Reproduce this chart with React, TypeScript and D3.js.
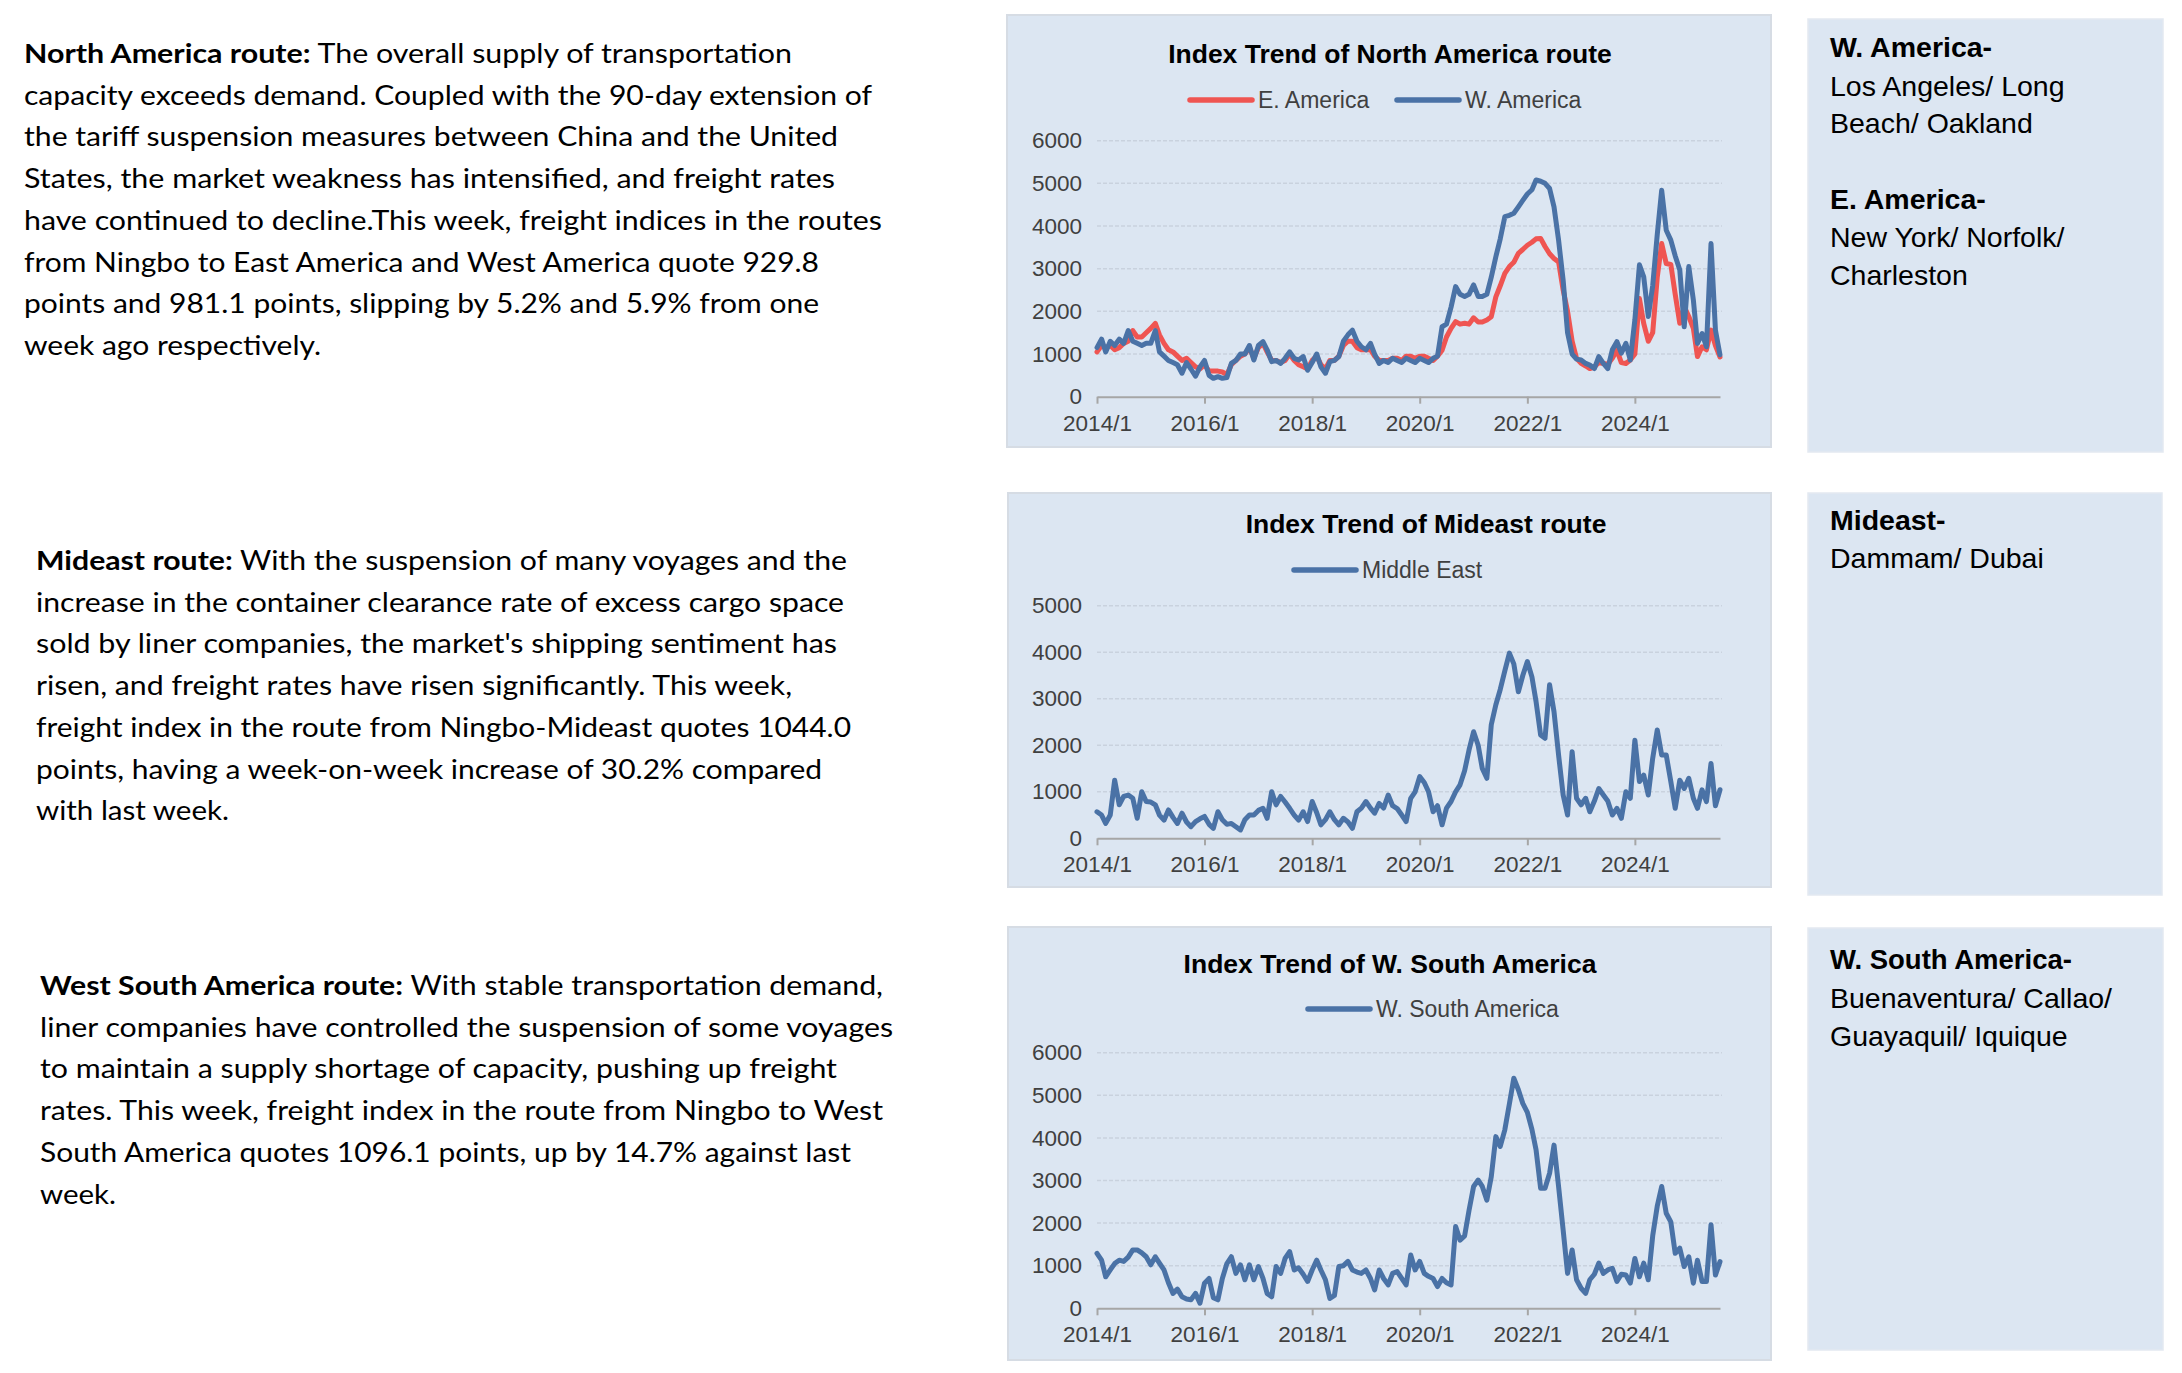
import { useEffect, useRef } from "react";
import * as d3 from "d3";

const W = 2182;
const H = 1373;

// monthly points, 2014/1 .. 2025/8
const MONTHS = d3.timeMonth.range(new Date(2014, 0, 1), new Date(2025, 8, 1));
const X_TICK_LABELS = ["2014/1", "2016/1", "2018/1", "2020/1", "2022/1", "2024/1"];
const X_TICK_DATES = X_TICK_LABELS.map((s) => d3.timeParse("%Y/%m")(s) as Date);

const eastAmerica = [
  1050, 1200, 1150, 1200, 1100, 1150, 1250, 1300, 1550, 1400, 1400, 1500,
  1600, 1720, 1450, 1250, 1100, 1050, 950, 850, 900, 800, 700, 650,
  750, 600, 600, 600, 580, 520, 750, 850, 950, 1000, 1150, 900,
  1150, 1250, 1050, 850, 850, 800, 850, 1000, 850, 750, 700, 650,
  850, 950, 750, 650, 850, 850, 950, 1200, 1300, 1300, 1150, 1100,
  1100, 1100, 950, 850, 850, 850, 900, 900, 850, 950, 950, 900,
  950, 950, 900, 850, 950, 1090, 1400, 1600, 1760, 1700, 1720, 1700,
  1850, 1750, 1750, 1800, 1875, 2340, 2600, 2890, 3050, 3150, 3360, 3450,
  3550, 3620, 3700, 3710, 3520, 3350, 3240, 3160, 2500, 2000, 1300, 900,
  780, 720, 660, 700, 800, 780, 760, 900, 1090, 800, 780, 860,
  1000, 2300, 1720, 1300, 1500, 2800, 3590, 3120, 3100, 2400, 1720, 2110,
  1880, 1600, 940, 1170, 1100, 1560, 1200, 930,
];

const westAmerica = [
  1150, 1350, 1050, 1300, 1200, 1350, 1250, 1550, 1300, 1250, 1200, 1250,
  1250, 1550, 1050, 950, 850, 800, 750, 550, 800, 650, 480, 700,
  850, 500, 430, 470, 430, 450, 780, 850, 1000, 1000, 1200, 860,
  1200, 1290, 1100, 820, 850, 780, 900, 1050, 900, 860, 940, 620,
  800, 1000, 700, 550, 820, 850, 940, 1300, 1450, 1560, 1300, 1170,
  1100, 1250, 1000, 780, 850, 800, 900, 850, 800, 900, 850, 800,
  900, 850, 800, 900, 950, 1640, 1700, 2100, 2580, 2400, 2350, 2400,
  2620, 2350, 2350, 2400, 2800, 3280, 3700, 4220, 4250, 4300, 4450, 4600,
  4750, 4850, 5080, 5050, 5000, 4880, 4450, 3670, 2730, 1500, 1000, 880,
  860, 780, 740, 660, 940, 780, 660, 1100, 1290, 1020, 1250, 860,
  1800, 3090, 2810, 1880, 2600, 3800, 4840, 3900, 3670, 3300, 2970, 1640,
  3050, 2270, 1250, 1480, 1170, 3590, 1560, 981,
];

const middleEast = [
  570, 500, 320, 500, 1250, 720, 900, 930, 860, 430, 1000, 790,
  780, 720, 500, 390, 610, 450, 320, 540, 350, 250, 360, 420,
  470, 300, 215, 570, 400, 300, 320, 250, 180, 400, 500, 500,
  600, 645, 430, 1000, 720, 900, 780, 645, 500, 390, 570, 360,
  790, 550, 290, 400, 570, 400, 290, 430, 350, 215, 570, 650,
  790, 650, 540, 750, 650, 930, 700, 640, 500, 360, 860, 1000,
  1325, 1200, 1000, 570, 700, 290, 650, 790, 1000, 1150, 1450, 1900,
  2290, 2000, 1500, 1290, 2440, 2870, 3200, 3600, 3980, 3750, 3150, 3500,
  3800, 3470, 2940, 2220, 2150, 3300, 2720, 1790, 930, 500, 1860, 860,
  720, 860, 570, 800, 1070, 930, 800, 500, 645, 430, 1000, 860,
  2110, 1220, 1360, 930, 1720, 2330, 1790, 1790, 1220, 645, 1250, 1070,
  1290, 860, 645, 1040, 790, 1610, 700, 1044,
];

const westSouthAmerica = [
  1290, 1130, 740, 900, 1050, 1130, 1100, 1200, 1370, 1370, 1300, 1210,
  1020, 1210, 1060, 900, 600, 350, 450, 270, 220, 200, 350, 120,
  590, 700, 250, 200, 700, 1050, 1210, 820, 1020, 670, 1020, 670,
  980, 700, 350, 270, 980, 820, 1170, 1330, 900, 950, 800, 630,
  900, 1130, 900, 670, 230, 300, 980, 1000, 1100, 900, 850, 820,
  900, 700, 430, 900, 700, 550, 820, 860, 700, 550, 1250, 900,
  1100, 820, 750, 700, 510, 700, 600, 550, 1920, 1600, 1700, 2300,
  2860, 3010, 2860, 2540, 3090, 4030, 3800, 4190, 4800, 5400, 5130, 4810,
  4600, 4200, 3720, 2820, 2820, 3170, 3830, 2860, 1840, 820, 1370, 670,
  470, 350, 670, 800, 1060, 820, 900, 940, 630, 800, 780, 590,
  1170, 740, 1060, 670, 1700, 2400, 2860, 2230, 2030, 1290, 1410, 980,
  1210, 590, 1130, 630, 630, 1960, 780, 1096,
];

const RED = "#EF5552";
const BLUE = "#4A72A6";
const PANEL_FILL = "#DCE6F2";
const ARIAL = "Arial, 'Liberation Sans', sans-serif";
const BODY_FONT = "Lato, 'Open Sans', sans-serif";

const PLOT_LEFT = 1097;
const PLOT_RIGHT = 1720;

const PANELS = [
  {
    title: "Index Trend of North America route",
    box: [1007, 15, 764, 432],
    titleX: 1390, titleY: 63, legendY: 100,
    series: [
      { name: "E. America", values: eastAmerica, color: RED, legendX: 1190 },
      { name: "W. America", values: westAmerica, color: BLUE, legendX: 1397 },
    ],
    yMax: 6000, plotTop: 140.7, plotBottom: 396.7,
  },
  {
    title: "Index Trend of Mideast route",
    box: [1008, 493, 763, 394],
    titleX: 1426, titleY: 533, legendY: 570,
    series: [{ name: "Middle East", values: middleEast, color: BLUE, legendX: 1294 }],
    yMax: 5000, plotTop: 605.7, plotBottom: 838.3,
  },
  {
    title: "Index Trend of W. South America",
    box: [1008, 927, 763, 433],
    titleX: 1390, titleY: 973, legendY: 1009,
    series: [{ name: "W. South America", values: westSouthAmerica, color: BLUE, legendX: 1308 }],
    yMax: 6000, plotTop: 1052.7, plotBottom: 1308.3,
  },
];

const LINE_GAP = 41.7;
const PARAGRAPHS = [
  {
    x: 24, y: 63, lead: "North America route:",
    lines: [
      "The overall supply of transportation",
      "capacity exceeds demand. Coupled with the 90-day extension of",
      "the tariff suspension measures between China and the United",
      "States, the market weakness has intensified, and freight rates",
      "have continued to decline.This week, freight indices in the routes",
      "from Ningbo to East America and West America quote 929.8",
      "points and 981.1 points, slipping by 5.2% and 5.9% from one",
      "week ago respectively.",
    ],
    ends: [792, 872, 838, 835, 882, 819, 819, 321],
  },
  {
    x: 36, y: 570, lead: "Mideast route:",
    lines: [
      "With the suspension of many voyages and the",
      "increase in the container clearance rate of excess cargo space",
      "sold by liner companies, the market's shipping sentiment has",
      "risen, and freight rates have risen significantly. This week,",
      "freight index in the route from Ningbo-Mideast quotes 1044.0",
      "points, having a week-on-week increase of 30.2% compared",
      "with last week.",
    ],
    ends: [847, 844, 837, 792, 851, 822, 229],
  },
  {
    x: 40, y: 995, lead: "West South America route:",
    lines: [
      "With stable transportation demand,",
      "liner companies have controlled the suspension of some voyages",
      "to maintain a supply shortage of capacity, pushing up freight",
      "rates. This week, freight index in the route from Ningbo to West",
      "South America quotes 1096.1 points, up by 14.7% against last",
      "week.",
    ],
    ends: [883, 893, 837, 883, 851, 116],
  },
];

const PORT_BOXES = [
  {
    box: [1808, 19, 355, 433],
    lines: [
      { t: "W. America-", b: true, y: 56.7 },
      { t: "Los Angeles/ Long", b: false, y: 96 },
      { t: "Beach/ Oakland", b: false, y: 133.3 },
      { t: "E. America-", b: true, y: 209 },
      { t: "New York/ Norfolk/", b: false, y: 246.7 },
      { t: "Charleston", b: false, y: 285 },
    ],
  },
  {
    box: [1808, 493, 354, 402],
    lines: [
      { t: "Mideast-", b: true, y: 530 },
      { t: "Dammam/ Dubai", b: false, y: 568 },
    ],
  },
  {
    box: [1808, 928, 355, 422],
    lines: [
      { t: "W. South America-", b: true, y: 969 },
      { t: "Buenaventura/ Callao/", b: false, y: 1008 },
      { t: "Guayaquil/ Iquique", b: false, y: 1046 },
    ],
  },
];

export default function App() {
  const svgRef = useRef<SVGSVGElement>(null);

  useEffect(() => {
    const svg = d3.select(svgRef.current);
    svg.selectAll("*").remove();
    svg.attr("width", W).attr("height", H).attr("viewBox", `0 0 ${W} ${H}`);

    svg.append("rect").attr("width", W).attr("height", H).attr("fill", "#ffffff");

    // Commentary paragraphs
    PARAGRAPHS.forEach((p) => {
      p.lines.forEach((line, i) => {
        const t = svg.append("text")
          .attr("x", p.x)
          .attr("y", p.y + i * LINE_GAP)
          .attr("font-family", BODY_FONT)
          .attr("font-size", 26)
          .attr("fill", "#000000");
        if (i === 0) t.append("tspan").attr("font-weight", "bold").text(p.lead);
        t.append("tspan").text(i === 0 ? " " + line : line);
        t.attr("textLength", p.ends[i] - p.x).attr("lengthAdjust", "spacingAndGlyphs");
      });
    });

    // Port lists on the right
    PORT_BOXES.forEach((pb) => {
      const [bx, by, bw, bh] = pb.box;
      svg.append("rect")
        .attr("x", bx).attr("y", by).attr("width", bw).attr("height", bh)
        .attr("fill", PANEL_FILL)
        .attr("stroke", "#E3E9F1")
        .attr("stroke-width", 1.5);
      pb.lines.forEach((l) => {
        svg.append("text")
          .attr("x", 1830)
          .attr("y", l.y)
          .attr("font-family", ARIAL)
          .attr("font-size", l.b && l.t.length > 14 ? 27.5 : 28.5)
          .attr("font-weight", l.b ? "bold" : "normal")
          .attr("fill", "#000000")
          .text(l.t);
      });
    });

    const x = d3.scaleTime()
      .domain([MONTHS[0], MONTHS[MONTHS.length - 1]])
      .range([PLOT_LEFT, PLOT_RIGHT]);

    PANELS.forEach((p) => {
      const [bx, by, bw, bh] = p.box;
      const g = svg.append("g");

      g.append("rect")
        .attr("x", bx).attr("y", by).attr("width", bw).attr("height", bh)
        .attr("fill", PANEL_FILL)
        .attr("stroke", "#D6DCE4")
        .attr("stroke-width", 2);

      // Title
      g.append("text")
        .attr("x", p.titleX)
        .attr("y", p.titleY)
        .attr("text-anchor", "middle")
        .attr("font-family", ARIAL)
        .attr("font-size", 26.5)
        .attr("font-weight", "bold")
        .attr("fill", "#000000")
        .text(p.title);

      // Legend
      p.series.forEach((s) => {
        g.append("line")
          .attr("x1", s.legendX).attr("x2", s.legendX + 62)
          .attr("y1", p.legendY).attr("y2", p.legendY)
          .attr("stroke", s.color)
          .attr("stroke-width", 5.5)
          .attr("stroke-linecap", "round");
        g.append("text")
          .attr("x", s.legendX + 68)
          .attr("y", p.legendY)
          .attr("dominant-baseline", "central")
          .attr("font-family", ARIAL)
          .attr("font-size", 23)
          .attr("fill", "#404040")
          .text(s.name);
      });

      const y = d3.scaleLinear().domain([0, p.yMax]).range([p.plotBottom, p.plotTop]);
      const yTicks = d3.range(0, p.yMax + 1, 1000);

      // Gridlines
      g.selectAll(".grid")
        .data(yTicks.filter((v) => v > 0))
        .enter()
        .append("line")
        .attr("x1", PLOT_LEFT).attr("x2", PLOT_RIGHT + 2)
        .attr("y1", (d) => y(d)).attr("y2", (d) => y(d))
        .attr("stroke", "#C9D2DE")
        .attr("stroke-width", 1.5)
        .attr("stroke-dasharray", "4,2");

      // Y axis
      const yAxis = g.append("g")
        .attr("transform", `translate(${PLOT_LEFT},0)`)
        .call(d3.axisLeft(y).tickValues(yTicks).tickSize(0).tickPadding(15).tickFormat(d3.format("d")));
      yAxis.select(".domain").remove();
      yAxis.selectAll("text")
        .attr("font-family", ARIAL)
        .attr("font-size", 22.5)
        .attr("fill", "#404040");

      // Series
      const line = d3.line<number>()
        .x((_, i) => x(MONTHS[i]))
        .y((d) => y(d));
      p.series.forEach((s) => {
        g.append("path")
          .datum(s.values)
          .attr("d", line)
          .attr("fill", "none")
          .attr("stroke", s.color)
          .attr("stroke-width", 5)
          .attr("stroke-linejoin", "round")
          .attr("stroke-linecap", "round");
      });

      // X axis
      const xAxis = g.append("g")
        .attr("transform", `translate(0,${p.plotBottom})`)
        .call(
          d3.axisBottom(x)
            .tickValues(X_TICK_DATES)
            .tickFormat((_, i) => X_TICK_LABELS[i])
            .tickSize(7)
            .tickSizeOuter(0)
        );
      xAxis.select(".domain").attr("stroke", "#A6A6A6").attr("stroke-width", 2);
      xAxis.selectAll(".tick line").attr("stroke", "#A6A6A6").attr("stroke-width", 2);
      xAxis.selectAll("text")
        .attr("y", 26.5)
        .attr("dy", null)
        .attr("dominant-baseline", "central")
        .attr("font-family", ARIAL)
        .attr("font-size", 22.5)
        .attr("fill", "#404040");
    });
  }, []);

  return <svg ref={svgRef} style={{ position: "absolute", left: 0, top: 0 }} />;
}
